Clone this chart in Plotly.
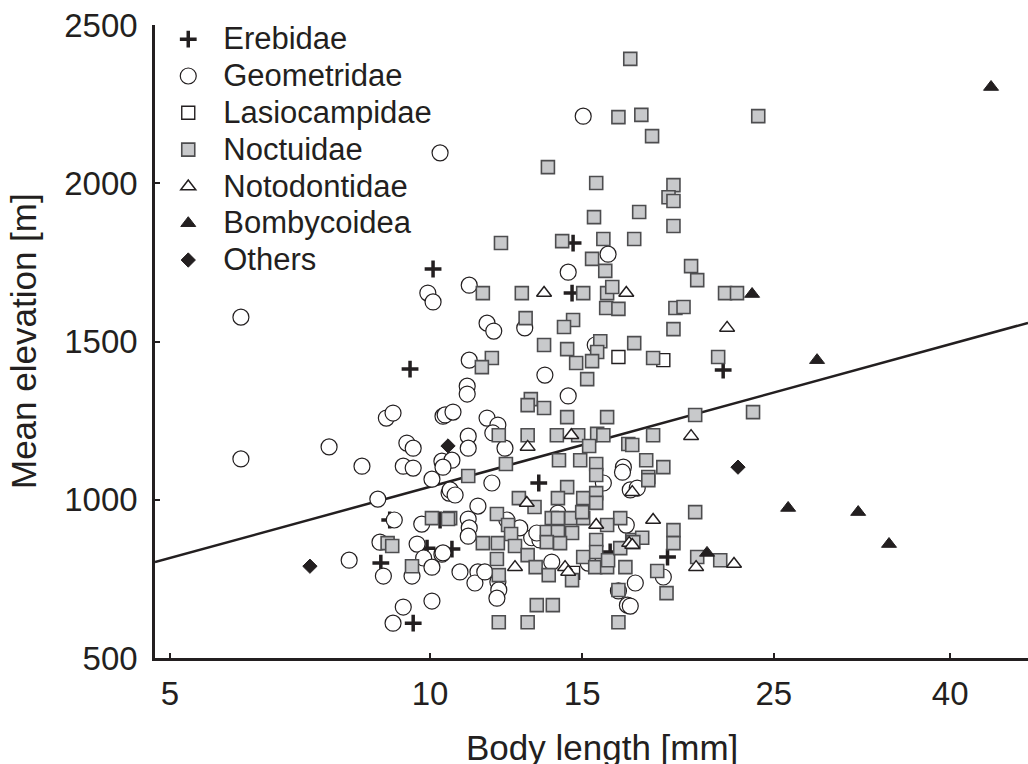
import numpy as np
import plotly.graph_objects as go

# ---------------- data (body length [mm], mean elevation [m]) ----------------
erebidae_x = [10.08, 9.48, 8.98, 8.77, 9.56, 14.64, 14.60, 13.36, 10.60, 21.84, 18.83, 16.16, 9.92, 10.27]
erebidae_y = [1729, 1413, 936, 800, 610, 1811, 1653, 1053, 844, 1410, 819, 835, 847, 936]

geometridae_x = [6.04, 6.04, 10.27, 9.94, 10.08, 8.90, 9.06, 10.35, 7.64, 9.40, 9.56, 8.34, 9.31, 9.56,
                 10.32, 10.05, 8.70, 10.52, 9.09, 9.78, 8.75, 9.66, 9.83, 10.05, 10.32, 8.06, 8.83, 9.53,
                 10.05, 9.31, 9.06, 15.04, 16.07, 14.45, 11.10, 11.64, 11.85, 12.87, 15.53, 11.10, 13.58,
                 11.04, 11.04, 14.45, 10.41, 10.63, 11.64, 11.98, 11.82, 11.07, 11.07, 12.21, 10.60, 10.35,
                 16.74, 10.55, 10.69, 11.79, 11.36, 15.87, 16.70, 17.05, 11.07, 11.10, 11.07, 11.36, 10.83,
                 11.27, 11.98, 12.01, 11.95, 11.57, 10.35, 13.11, 13.40, 13.29, 13.83, 15.24, 16.52, 16.92,
                 17.28, 17.37, 18.62, 17.05, 12.27, 12.70, 14.06, 16.87]
geometridae_y = [1577, 1129, 2096, 1653, 1625, 1258, 1274, 1264, 1167, 1179, 1163, 1106, 1106, 1100,
                 1122, 1065, 1002, 1021, 936, 923, 866, 860, 816, 787, 828, 809, 759, 759,
                 680, 661, 610, 2212, 1776, 1719, 1678, 1558, 1533, 1543, 1489, 1441, 1394,
                 1359, 1334, 1328, 1268, 1277, 1258, 1236, 1211, 1201, 1163, 1163, 1125, 1103,
                 1103, 1031, 1015, 1053, 980, 1053, 1087, 1031, 939, 911, 885, 772, 772,
                 737, 740, 715, 689, 772, 832, 880, 873, 895, 803, 800, 712, 667,
                 737, 1037, 756, 664, 936, 911, 958, 920]

lasiocampidae_x = [16.52, 18.62, 14.64]
lasiocampidae_y = [1451, 1441, 769]

noctuidae_x = [17.05, 16.52, 17.56, 18.07, 23.98, 13.69, 15.57, 19.13, 18.88, 19.13, 15.48, 17.46, 19.13,
               12.08, 14.22, 15.87, 17.23, 15.40, 15.95, 20.05, 20.38, 11.51, 12.77, 15.04, 16.03, 16.25,
               15.99, 16.52, 21.95, 22.66, 19.23, 19.65, 12.90, 14.64, 14.29, 17.23, 13.55, 14.41, 15.74,
               15.61, 15.40, 14.76, 15.20, 11.79, 11.48, 19.13, 18.12, 21.55, 13.08, 12.97, 13.55, 14.41,
               16.03, 23.65, 20.27, 12.01, 12.97, 14.02, 14.84, 15.61, 15.87, 15.28, 16.96, 18.12, 17.14,
               12.24, 14.10, 14.92, 15.57, 17.79, 18.62, 11.07, 17.89, 14.41, 15.57, 12.67, 13.21, 14.06,
               15.04, 15.57, 15.57, 17.89, 20.27, 10.55, 10.05, 10.49, 8.93, 9.04, 9.53, 11.95, 12.31,
               12.41, 11.51, 11.98, 12.54, 11.95, 12.01, 12.97, 13.25, 13.72, 13.83, 14.06, 14.57, 15.04,
               15.00, 13.65, 14.06, 14.60, 13.65, 14.14, 14.60, 15.04, 13.29, 13.87, 12.01, 12.97, 16.52,
               15.57, 15.57, 15.53, 16.03, 16.07, 16.60, 16.03, 16.83, 16.60, 17.14, 16.52, 17.60, 17.19,
               19.13, 19.13, 20.38, 21.67, 18.32, 18.78]
noctuidae_y = [2393, 2209, 2216, 2149, 2212, 2051, 2001, 1994, 1956, 1944, 1893, 1909, 1865,
               1811, 1817, 1824, 1824, 1761, 1723, 1738, 1694, 1653, 1653, 1653, 1653, 1672,
               1606, 1603, 1653, 1653, 1606, 1609, 1574, 1568, 1546, 1495, 1489, 1476, 1501,
               1467, 1438, 1432, 1381, 1448, 1419, 1539, 1448, 1451, 1318, 1299, 1290, 1261,
               1261, 1277, 1268, 1204, 1204, 1204, 1204, 1208, 1204, 1170, 1176, 1204, 1173,
               1113, 1125, 1125, 1113, 1125, 1103, 1075, 1072, 1040, 1078, 1005, 977, 1005,
               1005, 1021, 990, 1062, 961, 942, 942, 939, 863, 854, 790, 955, 920,
               892, 863, 863, 854, 813, 762, 825, 787, 762, 942, 942, 942, 942,
               961, 898, 898, 895, 866, 863, 746, 819, 667, 667, 613, 613, 613,
               873, 835, 787, 787, 809, 942, 920, 787, 847, 873, 715, 880, 866,
               904, 863, 819, 809, 775, 705]

notodontidae_x = [13.55, 16.87, 22.07, 14.57, 12.97, 20.05, 12.94, 12.54, 14.33, 14.45, 15.57, 17.14,
                  17.00, 18.12, 17.14, 20.32, 22.48]
notodontidae_y = [1653, 1653, 1543, 1204, 1167, 1201, 990, 787, 787, 772, 920, 1024,
                  863, 936, 857, 787, 797]

bombycoidea_x = [44.6, 23.59, 28.05, 25.97, 31.3, 33.98, 20.92]
bombycoidea_y = [2304, 1650, 1441, 974, 961, 860, 832]

others_x = [7.26, 10.49, 22.72]
others_y = [790, 1170, 1103]

# fitted regression: elevation = a + b * log10(body length)
fit_intercept = 293.0
fit_slope = 748.0

x_tick_vals = [5, 10, 15, 25, 40]
y_tick_vals = [500, 1000, 1500, 2000, 2500]

# ---------------- figure ----------------
INK = "#231f20"
FONT = "Liberation Sans, Arial, Helvetica, sans-serif"


def legend_label(s):
    return '<span style="font-size:31px">' + s + '</span>'


fig = go.Figure()

x_lo, x_hi = 10 ** 0.6816, 10 ** 1.6921
fx = np.array([x_lo, x_hi])
fig.add_trace(go.Scatter(x=fx, y=fit_intercept + fit_slope * np.log10(fx), mode="lines",
                         line=dict(color=INK, width=2.5), showlegend=False, hoverinfo="skip"))

fig.add_trace(go.Scatter(x=erebidae_x, y=erebidae_y, mode="markers", name=legend_label("Erebidae"),
                         marker=dict(symbol="cross-thin", size=12, color=INK,
                                     line=dict(color=INK, width=3.5))))
fig.add_trace(go.Scatter(x=geometridae_x, y=geometridae_y, mode="markers", name=legend_label("Geometridae"),
                         marker=dict(symbol="circle", size=16, color="white",
                                     line=dict(color=INK, width=1.2))))
fig.add_trace(go.Scatter(x=lasiocampidae_x, y=lasiocampidae_y, mode="markers",
                         name=legend_label("Lasiocampidae"),
                         marker=dict(symbol="square", size=13, color="white",
                                     line=dict(color=INK, width=1.4))))
fig.add_trace(go.Scatter(x=noctuidae_x, y=noctuidae_y, mode="markers", name=legend_label("Noctuidae"),
                         marker=dict(symbol="square", size=13, color="#c8c9cb",
                                     line=dict(color="#4d4d4f", width=1.6))))
fig.add_trace(go.Scatter(x=notodontidae_x, y=notodontidae_y, mode="markers",
                         name=legend_label("Notodontidae"),
                         marker=dict(symbol="triangle-up", size=13, color="white",
                                     line=dict(color=INK, width=1.5))))
fig.add_trace(go.Scatter(x=bombycoidea_x, y=bombycoidea_y, mode="markers",
                         name=legend_label("Bombycoidea"),
                         marker=dict(symbol="triangle-up", size=13, color=INK,
                                     line=dict(color=INK, width=1))))
fig.add_trace(go.Scatter(x=others_x, y=others_y, mode="markers", name=legend_label("Others"),
                         marker=dict(symbol="diamond", size=11, color=INK,
                                     line=dict(color=INK, width=1))))

fig.update_layout(
    width=1028, height=764,
    margin=dict(l=155, r=0, t=25, b=106),
    plot_bgcolor="white", paper_bgcolor="white",
    font=dict(family=FONT, color=INK, size=30),
    showlegend=True,
    legend=dict(x=-0.002, y=1.0145, xanchor="left", yanchor="top",
                font=dict(size=26, family=FONT, color=INK),
                bgcolor="rgba(0,0,0,0)", itemwidth=60, tracegroupgap=0),
    xaxis=dict(type="log", range=[0.6816, 1.6921], tickvals=x_tick_vals,
               ticktext=[str(v) for v in x_tick_vals],
               showline=True, linecolor=INK, linewidth=2.5, mirror=False,
               ticks="inside", ticklen=5, tickwidth=2, tickcolor=INK,
               showgrid=False, zeroline=False,
               tickfont=dict(size=33, family=FONT, color=INK), ticklabelstandoff=5),
    yaxis=dict(range=[500, 2500], tickvals=y_tick_vals,
               showline=True, linecolor=INK, linewidth=2.5, mirror=False,
               ticks="inside", ticklen=5, tickwidth=2, tickcolor=INK,
               showgrid=False, zeroline=False,
               tickfont=dict(size=33, family=FONT, color=INK), ticklabelstandoff=8),
)

fig.add_annotation(text="Body length [mm]", xref="paper", yref="paper",
                   x=0.512, y=0, yanchor="top", yshift=-68, showarrow=False,
                   font=dict(size=35, family=FONT, color=INK))
fig.add_annotation(text="Mean elevation [m]", xref="paper", yref="paper",
                   x=0, y=0.5, xanchor="right", xshift=-110, textangle=-90, showarrow=False,
                   font=dict(size=35, family=FONT, color=INK))

fig.write_html("out.html")
